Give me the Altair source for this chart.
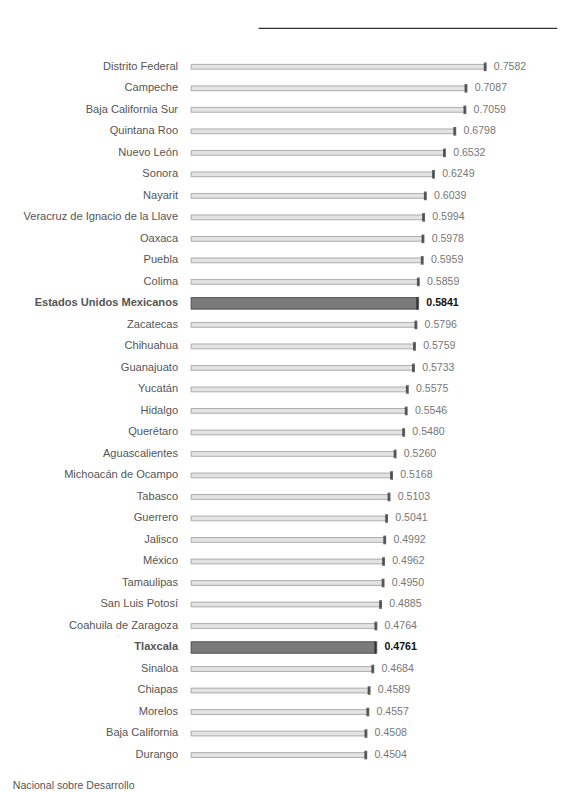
import altair as alt
import pandas as pd

estados = [
    "Distrito Federal", "Campeche", "Baja California Sur", "Quintana Roo",
    "Nuevo León", "Sonora", "Nayarit", "Veracruz de Ignacio de la Llave",
    "Oaxaca", "Puebla", "Colima", "Estados Unidos Mexicanos", "Zacatecas",
    "Chihuahua", "Guanajuato", "Yucatán", "Hidalgo", "Querétaro",
    "Aguascalientes", "Michoacán de Ocampo", "Tabasco", "Guerrero", "Jalisco",
    "México", "Tamaulipas", "San Luis Potosí", "Coahuila de Zaragoza",
    "Tlaxcala", "Sinaloa", "Chiapas", "Morelos", "Baja California", "Durango",
]
valores = [
    0.7582, 0.7087, 0.7059, 0.6798, 0.6532, 0.6249, 0.6039, 0.5994, 0.5978,
    0.5959, 0.5859, 0.5841, 0.5796, 0.5759, 0.5733, 0.5575, 0.5546, 0.5480,
    0.5260, 0.5168, 0.5103, 0.5041, 0.4992, 0.4962, 0.4950, 0.4885, 0.4764,
    0.4761, 0.4684, 0.4589, 0.4557, 0.4508, 0.4504,
]
destacados = ["Estados Unidos Mexicanos", "Tlaxcala"]
nota = "Nacional sobre Desarrollo"

df = pd.DataFrame({"estado": estados, "valor": valores})
df["hl"] = df["estado"].isin(destacados).astype(int)

FONT = "Liberation Sans"
H = 750

bold_test = " || ".join(f"datum.value == '{d}'" for d in destacados)

y = alt.Y(
    "estado:N", sort=estados, title=None,
    scale=alt.Scale(paddingInner=0.0, paddingOuter=0.3),
    axis=alt.Axis(
        domain=False, ticks=False, labelPadding=14, labelFont=FONT,
        labelFontSize=11.5, labelColor="#555", labelLimit=220,
        labelFontWeight={"condition": {"test": bold_test, "value": "bold"}, "value": "normal"},
    ),
)
x = alt.X("valor:Q", title=None, scale=alt.Scale(domain=[0, 0.77]), axis=None)

base = alt.Chart(df).encode(y=y)

bars = base.mark_bar(strokeWidth=0.8).encode(
    x=x,
    size=alt.condition(alt.datum.hl == 1, alt.value(12), alt.value(5)),
    color=alt.condition(alt.datum.hl == 1, alt.value("#7a7a7a"), alt.value("#e3e3e3")),
    stroke=alt.condition(alt.datum.hl == 1, alt.value("#3a3a3a"), alt.value("#9a9a9a")),
)

caps = base.mark_tick(thickness=3, color="#222").encode(
    x=x,
    size=alt.condition(alt.datum.hl == 1, alt.value(13), alt.value(9)),
)

labels_n = base.mark_text(align="left", dx=9, font=FONT, fontSize=11, color="#777").encode(
    x=x, text=alt.Text("valor:Q", format=".4f"),
).transform_filter(alt.datum.hl == 0)

labels_b = base.mark_text(
    align="left", dx=9, font=FONT, fontSize=11, color="#111", fontWeight="bold"
).encode(
    x=x, text=alt.Text("valor:Q", format=".4f"),
).transform_filter(alt.datum.hl == 1)

top_rule = alt.Chart(df.head(1)).mark_rule(color="#333", strokeWidth=1.2).encode(
    x=alt.value(70), x2=alt.value(380), y=alt.value(-22)
)

foot = alt.Chart(df.head(1)).mark_text(
    align="left", font=FONT, fontSize=11, color="#555"
).encode(x=alt.value(-185), y=alt.value(H + 14), text=alt.value(nota))

chart = (
    alt.layer(bars, caps, labels_n, labels_b, top_rule, foot)
    .properties(width=310, height=H, background="white")
    .configure_view(strokeWidth=0, stroke="transparent")
)

chart.save("out.html", embed_options={"renderer": "svg", "actions": False})
